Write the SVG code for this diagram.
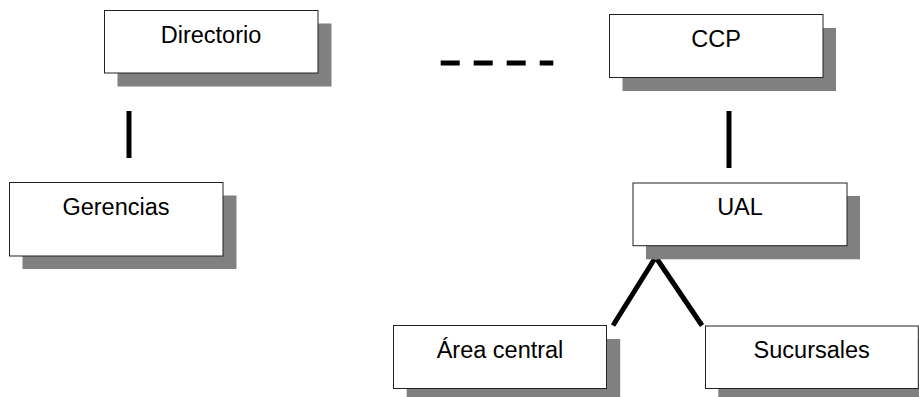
<svg xmlns="http://www.w3.org/2000/svg" width="919" height="397" viewBox="0 0 919 397">
<style>
.sh{fill:#808080;}
.bx{fill:#ffffff;stroke:#222222;stroke-width:1;}
.lb{font-family:"Liberation Sans",Arial,sans-serif;font-size:23.5px;fill:#000000;text-anchor:middle;}
.ln{stroke:#000000;stroke-width:5;fill:none;}
</style>
<rect width="919" height="397" fill="#ffffff"/>
<g id="connectors">
<line class="ln" x1="129" y1="111" x2="129" y2="158"/>
<line class="ln" x1="729" y1="111" x2="729" y2="168"/>
<line class="ln" x1="440.7" y1="63" x2="553.3" y2="63" stroke-width="4.5" stroke-dasharray="19 14"/>
<line class="ln" x1="654.5" y1="259" x2="613" y2="325.5" stroke-width="4.5"/>
<line class="ln" x1="657" y1="259" x2="702" y2="325.5" stroke-width="4.5"/>
</g>
<g id="directorio">
<rect class="sh" x="117.5" y="23.5" width="214" height="63"/>
<rect class="bx" x="104.5" y="10.5" width="213.5" height="62.5"/>
<text class="lb" x="211" y="43">Directorio</text>
</g>
<g id="gerencias">
<rect class="sh" x="22.5" y="195.5" width="214" height="73.5"/>
<rect class="bx" x="9.5" y="182.5" width="213.5" height="73.5"/>
<text class="lb" x="116" y="215">Gerencias</text>
</g>
<g id="ccp">
<rect class="sh" x="622.5" y="28" width="213.5" height="63"/>
<rect class="bx" x="609.5" y="14.5" width="213.5" height="63"/>
<text class="lb" x="716" y="47.3">CCP</text>
</g>
<g id="ual">
<rect class="sh" x="646" y="196" width="214" height="63.3"/>
<rect class="bx" x="633" y="183" width="214" height="62.7"/>
<text class="lb" x="740" y="215">UAL</text>
</g>
<g id="area-central">
<rect class="sh" x="406.7" y="339" width="213.5" height="63"/>
<rect class="bx" x="393.5" y="325.5" width="213" height="63"/>
<text class="lb" x="500" y="358.3">Área central</text>
</g>
<g id="sucursales">
<rect class="sh" x="718.3" y="339" width="213.5" height="63"/>
<rect class="bx" x="705.5" y="326" width="212.8" height="62.5"/>
<text class="lb" x="811.7" y="358.3">Sucursales</text>
</g>
</svg>
